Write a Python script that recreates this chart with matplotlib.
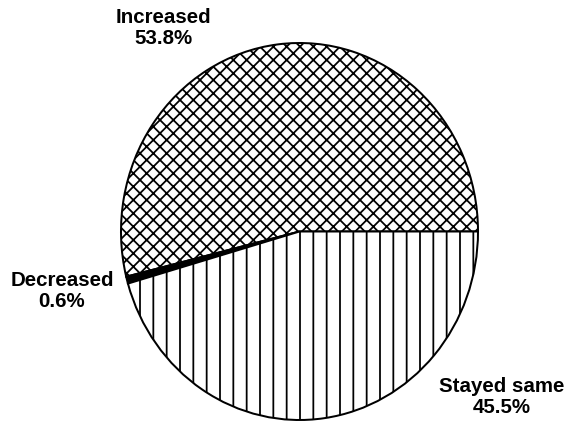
import matplotlib
matplotlib.use("Agg")
import matplotlib.pyplot as plt

# Share of respondents by change
labels = ["Increased", "Decreased", "Stayed same"]
shares = [53.8, 0.6, 45.5]
fills = ["white", "black", "white"]
hatches = ["xx", "", "|"]

plt.rcParams["hatch.linewidth"] = 1.6
plt.rcParams["font.family"] = ["Liberation Sans", "DejaVu Sans"]

W, H, DPI = 572, 424, 80
fig = plt.figure(figsize=(W / DPI, H / DPI), dpi=DPI)
fig.patch.set_facecolor("white")

# pie occupies the pixel box x 121..478, y 43..420
left, right, top, bottom = 121, 478, 43, 420
ax = fig.add_axes([left / W, 1 - bottom / H, (right - left) / W, (bottom - top) / H])

wedges, _ = ax.pie(shares, startangle=0, counterclock=True, colors=fills,
                   wedgeprops=dict(edgecolor="black", linewidth=1.8))
for w, h in zip(wedges, hatches):
    w.set_hatch(h)
    w.set_clip_on(False)

ax.set_aspect("auto")
ax.set_xlim(-1, 1)
ax.set_ylim(-1, 1)
ax.axis("off")

txt = dict(ha="center", va="center", fontsize=18.5, fontweight="bold", linespacing=1.15)


def place(x, y, s):
    fig.text(x / W, 1 - y / H, s, **txt)


place(163, 28, f"{labels[0]}\n{shares[0]}%")
place(62, 291, f"{labels[1]}\n{shares[1]}%")
place(502, 397, f"{labels[2]}\n{shares[2]}%")

fig.savefig("out.png", dpi=DPI, facecolor="white")
